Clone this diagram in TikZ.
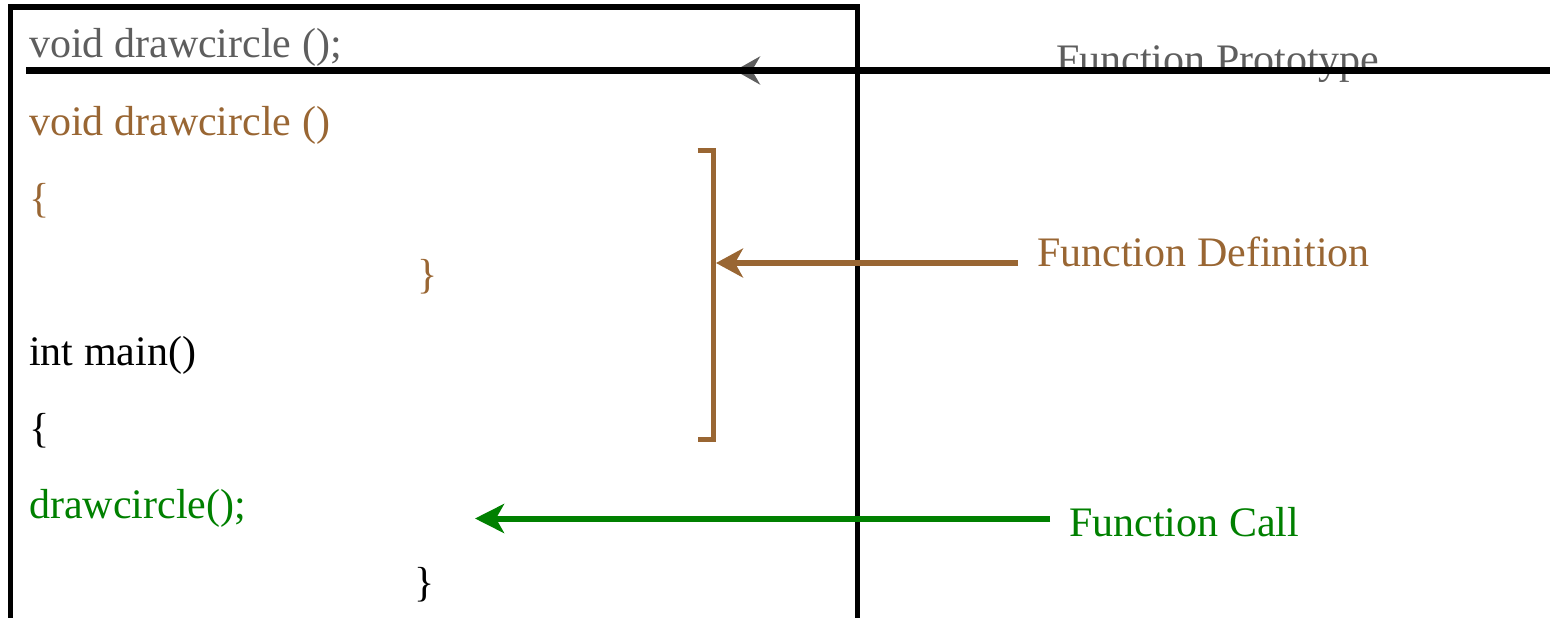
\documentclass[tikz,border=0pt]{standalone}
\usepackage{fontspec}
\setmainfont{Liberation Serif}
\usetikzlibrary{arrows.meta}
\definecolor{cbrown}{HTML}{996633}
\definecolor{cgreen}{HTML}{008000}
\definecolor{cgray}{HTML}{5E5E5E}
\tikzset{
  code/.style={anchor=base west, inner sep=0pt, font=\fontsize{42}{50}\selectfont},
  callout/.style={line width=6pt},
}
\begin{document}
\begin{tikzpicture}[x=1pt,y=-1pt]
\useasboundingbox (0,0) rectangle (1550,618);
\clip (0,0) rectangle (1550,618);
% box
\draw[line width=5.5pt] (10.5,7) rectangle (857.5,660);
% code lines
\node[code, text=cgray] (proto) at (29,58) {void drawcircle ();};
\node[code, text=cbrown] (defhead) at (29,135) {void drawcircle ()};
\node[code, text=cbrown] (defopen) at (29,212) {\{};
\node[code, text=cbrown] (defclose) at (417,288) {\}};
\node[code] (mainhead) at (29,365) {int main()};
\node[code] (mainopen) at (29,442) {\{};
\node[code, text=cgreen] (call) at (29,518) {drawcircle();};
\node[code] (mainclose) at (414,596) {\}};
% labels
\node[code, text=cgray] (lproto) at (1056,74) {Function Prototype};
\node[code, text=cbrown] (ldef) at (1037,266) {Function Definition};
\node[code, text=cgreen] (lcall) at (1069,536) {Function Call};
% coordinates
\coordinate (protoend) at (1550,70.5);
\coordinate (prototip) at (735,70.5);
\coordinate (linestart) at (26,70.5);
\coordinate (bktop) at (713.5,150.5);
\coordinate (bkbot) at (713.5,439);
\coordinate (bkmid) at (716,263);
\coordinate (defstart) at (1018,263);
\coordinate (callstart) at (1050,518.5);
\coordinate (calltip) at (475,518.5);
% prototype arrow (gray) under black rule
\draw[callout, cgray, -{Stealth[length=25pt,width=28pt,inset=8pt]}] (protoend) -- (prototip);
\draw[line width=6.5pt] (linestart) -- (protoend);
% bracket
\draw[line width=5pt, cbrown] ([xshift=-16pt]bktop) -- (bktop) -- (bkbot) -- ([xshift=-16pt]bkbot);
% definition arrow
\draw[callout, cbrown, -{Stealth[length=27pt,width=29pt,inset=8pt]}] (defstart) -- (bkmid);
% call arrow
\draw[callout, cgreen, -{Stealth[length=29pt,width=29pt,inset=8pt]}] (callstart) -- (calltip);
\end{tikzpicture}
\end{document}
